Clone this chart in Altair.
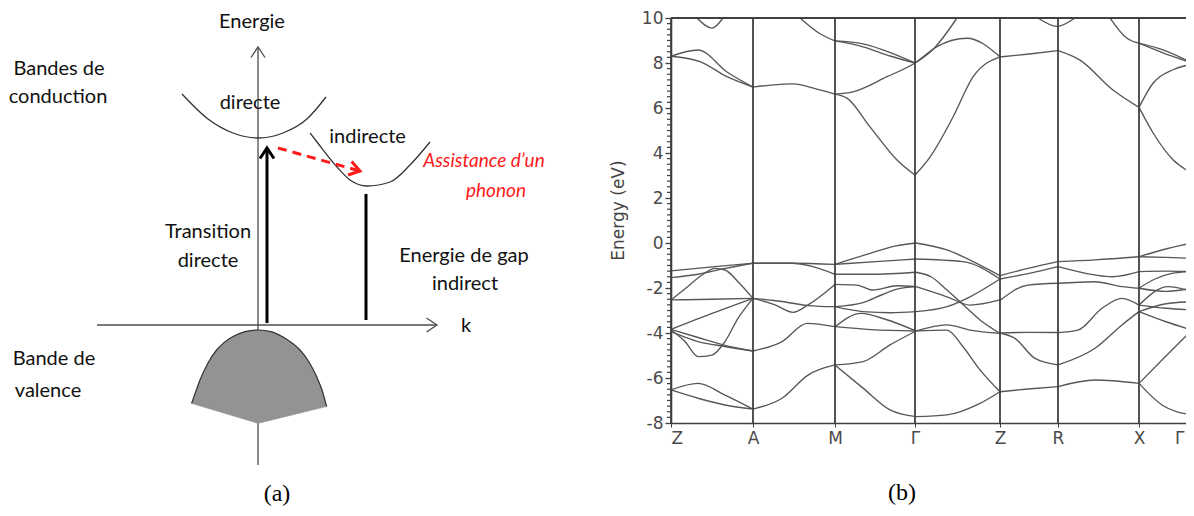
import altair as alt
import pandas as pd

# ======================= panel (a): schematic =======================
E_AXIS_K = [0.0, 0.0]
E_AXIS_E = [-7.0, 13.9]
K_AXIS_K = [-8.05, 8.95]
K_AXIS_E = [0.0, 0.0]

DIRECT_K = [-3.8, -2.5, -1.25, 0.0, 1.25, 2.5, 3.4]
DIRECT_E = [11.55, 10.3, 9.6, 9.35, 9.6, 10.35, 11.4]

INDIRECT_K = [2.6, 2.95, 3.95, 4.6, 5.45, 6.6, 7.6, 8.6]
INDIRECT_E = [9.6, 9.15, 7.9, 7.25, 6.95, 7.15, 8.0, 9.15]

VALENCE_ARC_K = [-3.32, -3.1, -2.9, -2.5, -2.07, -1.7, -1.25, -0.65, 0.0, 0.65, 1.25, 1.7, 2.1, 2.55, 2.93, 3.2, 3.43]
VALENCE_ARC_E = [-3.92, -3.3, -2.75, -1.9, -1.25, -0.88, -0.58, -0.33, -0.25, -0.33, -0.6, -0.9, -1.25, -1.85, -2.58, -3.25, -4.08]
VALENCE_BASE_K = [3.43, 0.0, -3.32]
VALENCE_BASE_E = [-4.08, -4.92, -3.92]

DIRECT_ARROW_K = [0.45, 0.45]
DIRECT_ARROW_E = [0.1, 8.85]
GAP_K = [5.4, 5.4]
GAP_E = [0.25, 6.55]
PHONON_K = [1.0, 5.1]
PHONON_E = [8.85, 7.7]

AXIS_TIP_K = [0.0, 8.95]
AXIS_TIP_E = [13.9, 0.0]
AXIS_TIP_ANGLE = [0, 90]

TEXT_A = ["Energie", "Bandes de", "conduction", "directe", "indirecte", "Transition",
          "directe", "Energie de gap", "indirect", "k", "Bande de", "valence"]
TEXT_A_K = [-0.3, -9.95, -10.0, -0.4, 5.48, -2.5, -2.5, 10.3, 10.35, 10.4, -10.2, -10.5]
TEXT_A_E = [14.85, 12.5, 11.1, 10.8, 9.1, 4.35, 2.9, 3.15, 1.75, -0.35, -2.0, -3.6]

RED_TEXT = ["Assistance d\u2019un", "phonon"]
RED_K = [11.3, 11.9]
RED_E = [7.9, 6.4]

# ======================= panel (b): band structure =======================
K_POINTS = [0, 82, 164, 244, 329, 387, 468, 521]
K_NAMES = ["Z", "A", "M", "\u0393", "Z", "R", "X", "\u0393"]

CONDUCTION_BANDS = [
    ([0, 27, 56, 82], [8.3, 8.58, 7.6, 6.93]),
    ([0, 29, 56, 82], [8.3, 8.06, 7.39, 6.93]),
    ([26, 41, 52], [10.0, 9.55, 10.0]),
    ([82, 100, 122, 145, 164], [6.93, 7.02, 7.07, 6.85, 6.62]),
    ([129, 149, 164], [10.0, 9.3, 8.98]),
    ([164, 192, 220, 244], [8.98, 8.85, 8.45, 8.0]),
    ([164, 192, 220, 244], [8.98, 8.72, 8.3, 8.0]),
    ([164, 182, 216, 244, 266, 296, 329], [6.62, 6.72, 7.39, 8.0, 8.73, 9.1, 8.28]),
    ([164, 176, 199, 226, 244], [6.62, 6.44, 5.16, 3.69, 3.02]),
    ([244, 262, 286], [8.0, 8.6, 10.0]),
    ([244, 259, 282, 302, 329], [3.02, 3.82, 5.6, 7.38, 8.27]),
    ([329, 358, 387], [8.27, 8.4, 8.55]),
    ([367, 386, 404], [10.0, 9.63, 10.0]),
    ([387, 409, 442, 468], [8.55, 8.13, 6.8, 6.03]),
    ([439, 456, 468], [10.0, 9.1, 8.88]),
    ([468, 492, 521], [8.88, 8.58, 8.0]),
    ([468, 492, 521], [8.88, 8.45, 8.0]),
    ([468, 482, 502, 521], [6.03, 7.1, 7.7, 7.95]),
    ([468, 482, 502, 521], [6.03, 4.9, 3.7, 3.1]),
]

VALENCE_BANDS = [
    ([0, 44, 82], [-1.24, -1.05, -0.9]),
    ([0, 27, 54, 82], [-1.54, -1.39, -1.13, -0.9]),
    ([0, 15, 31, 44, 54, 67, 82], [-2.53, -2.0, -1.42, -1.13, -1.2, -1.72, -2.46]),
    ([0, 41, 82], [-2.53, -2.5, -2.46]),
    ([0, 41, 82], [-3.84, -3.13, -2.46]),
    ([0, 14, 27, 41, 54, 67, 82], [-3.87, -4.38, -5.05, -4.98, -4.38, -3.35, -2.46]),
    ([0, 27, 54, 82], [-3.94, -4.38, -4.6, -4.8]),
    ([0, 27, 54, 82], [-3.84, -4.2, -4.55, -4.8]),
    ([0, 27, 54, 82], [-6.53, -6.24, -6.76, -7.38]),
    ([0, 27, 54, 82], [-6.53, -6.9, -7.2, -7.38]),
    ([82, 121, 141, 164], [-0.9, -0.9, -1.04, -1.39]),
    ([82, 121, 164], [-0.9, -0.9, -0.95]),
    ([82, 104, 122, 137, 164], [-2.46, -2.75, -3.08, -2.75, -1.84]),
    ([82, 111, 137, 164], [-2.46, -2.6, -2.78, -2.83]),
    ([82, 111, 136, 164], [-4.8, -4.38, -3.57, -3.72]),
    ([82, 111, 137, 164], [-7.38, -6.9, -5.87, -5.42]),
    ([164, 199, 225, 245], [-0.95, -0.46, -0.13, 0.0]),
    ([164, 205, 245], [-0.95, -0.83, -0.71]),
    ([164, 200, 245], [-1.39, -1.39, -1.3]),
    ([164, 186, 202, 226, 245], [-1.84, -1.87, -2.09, -1.9, -1.94]),
    ([164, 192, 211, 226, 245], [-2.83, -2.65, -2.3, -2.05, -1.94]),
    ([164, 192, 220, 245], [-2.83, -3.05, -3.1, -3.05]),
    ([164, 190, 215, 245], [-3.72, -3.13, -3.4, -3.91]),
    ([164, 200, 245], [-3.72, -3.85, -3.91]),
    ([164, 192, 219, 245], [-5.42, -5.27, -4.53, -3.91]),
    ([164, 192, 219, 245], [-5.42, -6.45, -7.42, -7.72]),
    ([245, 276, 309, 329], [0.0, -0.31, -0.98, -1.45]),
    ([245, 292, 329], [-0.71, -0.83, -1.6]),
    ([245, 260, 276, 296, 309, 329], [-1.3, -1.5, -2.09, -2.9, -3.42, -4.01]),
    ([245, 276, 299, 329], [-1.94, -2.39, -2.76, -2.53]),
    ([245, 276, 299, 329], [-3.05, -2.83, -2.39, -1.6]),
    ([245, 276, 299, 329], [-3.91, -3.64, -3.87, -4.01]),
    ([245, 276, 292, 309, 329], [-3.91, -3.87, -4.61, -5.64, -6.61]),
    ([245, 276, 309, 329], [-7.72, -7.64, -7.13, -6.61]),
    ([329, 357, 387], [-1.45, -1.13, -0.83]),
    ([329, 357, 387], [-1.6, -1.36, -1.05]),
    ([329, 357, 387], [-2.55, -1.87, -1.79]),
    ([329, 357, 387], [-4.0, -3.97, -3.98]),
    ([329, 344, 364, 387], [-4.0, -4.24, -5.13, -5.42]),
    ([329, 357, 387], [-6.61, -6.49, -6.38]),
    ([387, 424, 468], [-0.83, -0.75, -0.61]),
    ([387, 424, 441, 468], [-1.05, -1.42, -1.5, -1.27]),
    ([387, 424, 451, 468], [-1.79, -1.72, -1.94, -2.01]),
    ([387, 407, 431, 451, 468], [-3.98, -3.87, -2.9, -2.46, -2.76]),
    ([387, 424, 451, 468], [-5.42, -4.68, -3.64, -3.05]),
    ([387, 424, 468], [-6.38, -6.09, -6.24]),
    ([468, 491, 521], [-0.61, -0.31, 0.0]),
    ([468, 495, 521], [-0.61, -0.64, -0.68]),
    ([468, 495, 521], [-1.27, -1.25, -1.27]),
    ([468, 484, 501, 521], [-2.01, -1.6, -1.35, -1.27]),
    ([468, 495, 521], [-2.01, -2.15, -2.01]),
    ([468, 497, 521], [-2.76, -1.94, -2.16]),
    ([468, 495, 521], [-2.76, -2.9, -2.98]),
    ([468, 495, 521], [-3.05, -3.5, -3.87]),
    ([468, 495, 521], [-3.05, -2.7, -2.61]),
    ([468, 491, 521], [-6.24, -5.2, -3.87]),
    ([468, 491, 521], [-6.24, -7.2, -7.64]),
]

FRAME_TOP_K = [0, 521]
FRAME_TOP_E = [10, 10]
Y_MAJOR = [-8, -6, -4, -2, 0, 2, 4, 6, 8, 10]
Y_MINOR = [v / 4 for v in range(-32, 41) if v % 8 != 0]
CAPTION_B = ("(b)", 231, -11.1)
CAPTION_A = ("(a)", 0.95, -8.45)

# ---------------------------------------------------------------------------
def series(name_pairs):
    rows = []
    for name, ks, es in name_pairs:
        for i, (k, e) in enumerate(zip(ks, es)):
            rows.append({"s": name, "i": i, "k": k, "E": e})
    return pd.DataFrame(rows)

xa = alt.Scale(domain=[-12, 12], range=[10, 490])
ya = alt.Scale(domain=[-9, 16], range=[497, -3])
XA = alt.X("k:Q", scale=xa, axis=None)
YA = alt.Y("E:Q", scale=ya, axis=None)

CHEVRON = "M-1,1.5L0,0L1,1.5"

df_axes = series([("e", E_AXIS_K, E_AXIS_E), ("k", K_AXIS_K, K_AXIS_E)])
axes_a = alt.Chart(df_axes).mark_line(color="#4d4d4d", strokeWidth=1.3).encode(
    x=XA, y=YA, detail="s:N", order="i:Q")

df_poly = series([("v", VALENCE_ARC_K + VALENCE_BASE_K, VALENCE_ARC_E + VALENCE_BASE_E)])
valence_fill = alt.Chart(df_poly).mark_line(
    fill="#939393", stroke="#939393", strokeWidth=0.5, interpolate="linear-closed").encode(
    x=XA, y=YA, order="i:Q")

df_arc = series([("arc", VALENCE_ARC_K, VALENCE_ARC_E)])
valence_arc = alt.Chart(df_arc).mark_line(color="#333333", strokeWidth=1.2, interpolate="monotone").encode(
    x=XA, y=YA, order="i:Q")

df_par = series([("d", DIRECT_K, DIRECT_E), ("i", INDIRECT_K, INDIRECT_E)])
parabolas = alt.Chart(df_par).mark_line(color="#333333", strokeWidth=1.3, interpolate="monotone").encode(
    x=XA, y=YA, detail="s:N", order="i:Q")

df_thick = series([("arrow", DIRECT_ARROW_K, DIRECT_ARROW_E), ("gap", GAP_K, GAP_E)])
thick = alt.Chart(df_thick).mark_line(color="#000000", strokeWidth=3).encode(
    x=XA, y=YA, detail="s:N", order="i:Q")

df_ph = series([("ph", PHONON_K, PHONON_E)])
phonon = alt.Chart(df_ph).mark_line(color="#ff1a1a", strokeWidth=3, strokeDash=[9, 6]).encode(
    x=XA, y=YA, order="i:Q")

df_tips = pd.DataFrame({"k": AXIS_TIP_K, "E": AXIS_TIP_E, "a": AXIS_TIP_ANGLE})
tips = alt.Chart(df_tips).mark_point(shape=CHEVRON, filled=False, size=196, color="#4d4d4d",
                                     strokeWidth=1.3, opacity=1).encode(
    x=XA, y=YA, angle=alt.Angle("a:Q", scale=None))

df_tip2 = pd.DataFrame({"k": [DIRECT_ARROW_K[1]], "E": [DIRECT_ARROW_E[1]], "a": [0]})
tip2 = alt.Chart(df_tip2).mark_point(shape=CHEVRON, filled=False, size=196, color="#000000",
                                     strokeWidth=3, opacity=1).encode(
    x=XA, y=YA, angle=alt.Angle("a:Q", scale=None))

df_tip3 = pd.DataFrame({"k": [PHONON_K[1]], "E": [PHONON_E[1]], "a": [105]})
tip3 = alt.Chart(df_tip3).mark_point(shape=CHEVRON, filled=False, size=196, color="#ff1a1a",
                                     strokeWidth=3, opacity=1).encode(
    x=XA, y=YA, angle=alt.Angle("a:Q", scale=None))

df_txt = pd.DataFrame({"t": TEXT_A, "k": TEXT_A_K, "E": TEXT_A_E})
texts_a = alt.Chart(df_txt).mark_text(font="Lato", fontSize=20, color="#111111",
                                      align="center", baseline="alphabetic").encode(
    x=XA, y=YA, text="t:N")

df_red = pd.DataFrame({"t": RED_TEXT, "k": RED_K, "E": RED_E})
texts_red = alt.Chart(df_red).mark_text(font="Lato", fontSize=19, fontStyle="italic", color="#ff1a1a",
                                        align="center", baseline="alphabetic").encode(
    x=XA, y=YA, text="t:N")

df_capa = pd.DataFrame({"t": [CAPTION_A[0]], "k": [CAPTION_A[1]], "E": [CAPTION_A[2]]})
cap_a = alt.Chart(df_capa).mark_text(font="Liberation Serif", fontSize=24, color="#000000",
                                     align="center", baseline="middle").encode(
    x=XA, y=YA, text="t:N")

# ---------------------------------------------------------------------------
xb = alt.Scale(domain=[0, 521], range=[663, 1184])
yb = alt.Scale(domain=[-8, 10], range=[415, 10])

names_js = "[" + ",".join("'" + n + "'" for n in K_NAMES) + "]"
pts_js = "[" + ",".join(str(p) for p in K_POINTS) + "]"

x_axis = alt.Axis(
    orient="bottom", offset=-85, values=K_POINTS, title=None, grid=False,
    labelExpr=names_js + "[indexof(" + pts_js + ", datum.value)]",
    domainColor="#404040", domainWidth=1.6, tickColor="#404040", tickSize=4,
    labelFont="DejaVu Sans", labelFontSize=17, labelColor="#4a4a4a", labelPadding=3,
    labelOffset={"condition": {"test": "datum.value == 521", "value": -8}, "value": 0},
)
y_axis = alt.Axis(
    orient="left", offset=-663, values=Y_MAJOR, grid=False,
    labelExpr="'' + datum.value", tickSize=6,
    labelOverlap=False, labelFlush=False, labelPadding=2,
    labelFont="DejaVu Sans", labelFontSize=17, labelColor="#4a4a4a",
    domainColor="#404040", domainWidth=1.6, tickColor="#404040", tickWidth=1.3,
    title="Energy (eV)", titleFont="DejaVu Sans", titleFontSize=17, titleFontWeight="normal",
    titleColor="#444444", titleAngle=270, titleX=-53, titleY=202,
    titleAlign="center", titleBaseline="middle",
)

rows = []
for b, (ks, es) in enumerate(CONDUCTION_BANDS + VALENCE_BANDS):
    for i, (k, e) in enumerate(zip(ks, es)):
        rows.append({"band": b, "i": i, "k": k, "E": e})
df_bands = pd.DataFrame(rows)

bands = alt.Chart(df_bands).mark_line(color="#575757", strokeWidth=1.35, interpolate="monotone",
                                      clip=True).encode(
    x=alt.X("k:Q", scale=xb, axis=x_axis),
    y=alt.Y("E:Q", scale=yb, axis=y_axis),
    detail="band:N", order="i:Q")

df_kp = pd.DataFrame({"k": K_POINTS})
vlines = alt.Chart(df_kp).mark_rule(color="#404040", strokeWidth=1.8).encode(
    x=alt.X("k:Q", scale=xb, axis=None),
    y=alt.Y(datum=-8, scale=yb, axis=None),
    y2=alt.Y2(datum=10))

df_top = pd.DataFrame({"k": FRAME_TOP_K, "E": FRAME_TOP_E})
top = alt.Chart(df_top).mark_line(color="#404040", strokeWidth=1.8).encode(
    x=alt.X("k:Q", scale=xb, axis=None), y=alt.Y("E:Q", scale=yb, axis=None))

df_minor = pd.DataFrame({"E": Y_MINOR})
minor = alt.Chart(df_minor).mark_rule(color="#404040", strokeWidth=1.2, xOffset=-4).encode(
    x=alt.X(datum=0, scale=xb, axis=None), x2=alt.X2(datum=0),
    y=alt.Y("E:Q", scale=yb, axis=None))

df_capb = pd.DataFrame({"t": [CAPTION_B[0]], "k": [CAPTION_B[1]], "E": [CAPTION_B[2]]})
cap_b = alt.Chart(df_capb).mark_text(font="Liberation Serif", fontSize=24, color="#000000",
                                     align="center", baseline="middle").encode(
    x=alt.X("k:Q", scale=xb, axis=None), y=alt.Y("E:Q", scale=yb, axis=None), text="t:N")

chart = alt.layer(
    bands, vlines, top, minor, cap_b,
    axes_a, valence_fill, valence_arc, parabolas, thick, phonon,
    tips, tip2, tip3, texts_a, texts_red, cap_a,
).resolve_scale(
    x="independent", y="independent"
).properties(
    width=1178, height=500, padding=0,
    autosize=alt.AutoSizeParams(type="none"),
).configure_view(stroke=None)

chart.save("out.html", embed_options={"renderer": "svg", "actions": False})
